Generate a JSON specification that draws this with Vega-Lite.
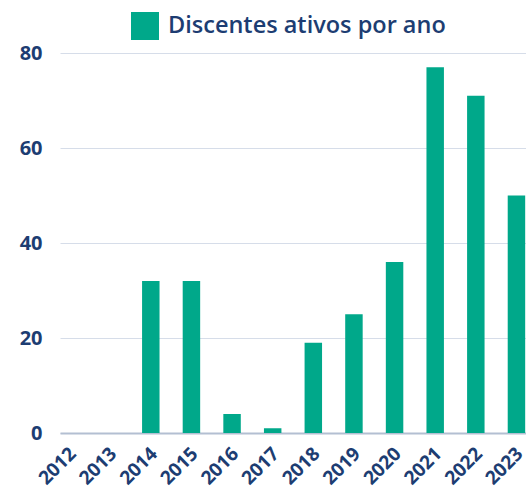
{
  "$schema": "https://vega.github.io/schema/vega-lite/v6.json",
  "width": 466,
  "height": 380,
  "autosize": {"type": "none"},
  "padding": {"left": 60, "top": 53, "right": 0, "bottom": 60},
  "config": {
    "view": {"stroke": null},
    "font": "Open Sans"
  },
  "data": {
    "values": [
      {"ano": "2012", "valor": 0, "serie": "Discentes ativos por ano"},
      {"ano": "2013", "valor": 0, "serie": "Discentes ativos por ano"},
      {"ano": "2014", "valor": 32, "serie": "Discentes ativos por ano"},
      {"ano": "2015", "valor": 32, "serie": "Discentes ativos por ano"},
      {"ano": "2016", "valor": 4, "serie": "Discentes ativos por ano"},
      {"ano": "2017", "valor": 1, "serie": "Discentes ativos por ano"},
      {"ano": "2018", "valor": 19, "serie": "Discentes ativos por ano"},
      {"ano": "2019", "valor": 25, "serie": "Discentes ativos por ano"},
      {"ano": "2020", "valor": 36, "serie": "Discentes ativos por ano"},
      {"ano": "2021", "valor": 77, "serie": "Discentes ativos por ano"},
      {"ano": "2022", "valor": 71, "serie": "Discentes ativos por ano"},
      {"ano": "2023", "valor": 50, "serie": "Discentes ativos por ano"}
    ]
  },
  "mark": {"type": "bar"},
  "encoding": {
    "x": {
      "field": "ano",
      "type": "ordinal",
      "scale": {"paddingInner": 0.57, "paddingOuter": 0.02},
      "axis": {
        "title": null,
        "labelAngle": -45,
        "labelFontSize": 19,
        "labelFontWeight": "bold",
        "labelColor": "#1d3d72",
        "ticks": false,
        "labelPadding": 11,
        "labelOffset": -3,
        "labelBound": false,
        "labelOverlap": false,
        "domainColor": "#b3bfd2",
        "domainWidth": 2
      }
    },
    "y": {
      "field": "valor",
      "type": "quantitative",
      "scale": {"domain": [0, 80]},
      "axis": {
        "title": null,
        "values": [0, 20, 40, 60, 80],
        "labelFontSize": 20,
        "labelFontWeight": "bold",
        "labelColor": "#1d3d72",
        "labelPadding": 18,
        "ticks": false,
        "domain": false,
        "gridColor": "#d6dde9",
        "gridWidth": 1
      }
    },
    "color": {
      "field": "serie",
      "type": "nominal",
      "scale": {"range": ["#00a88a"]},
      "legend": {
        "title": null,
        "orient": "none",
        "legendX": 71,
        "legendY": -41,
        "direction": "horizontal",
        "symbolType": "square",
        "symbolSize": 784,
        "symbolStrokeWidth": 0,
        "labelFontSize": 23.5,
        "labelFontWeight": 600,
        "labelColor": "#1d3d72",
        "labelOffset": 9,
        "labelLimit": 0
      }
    }
  }
}
